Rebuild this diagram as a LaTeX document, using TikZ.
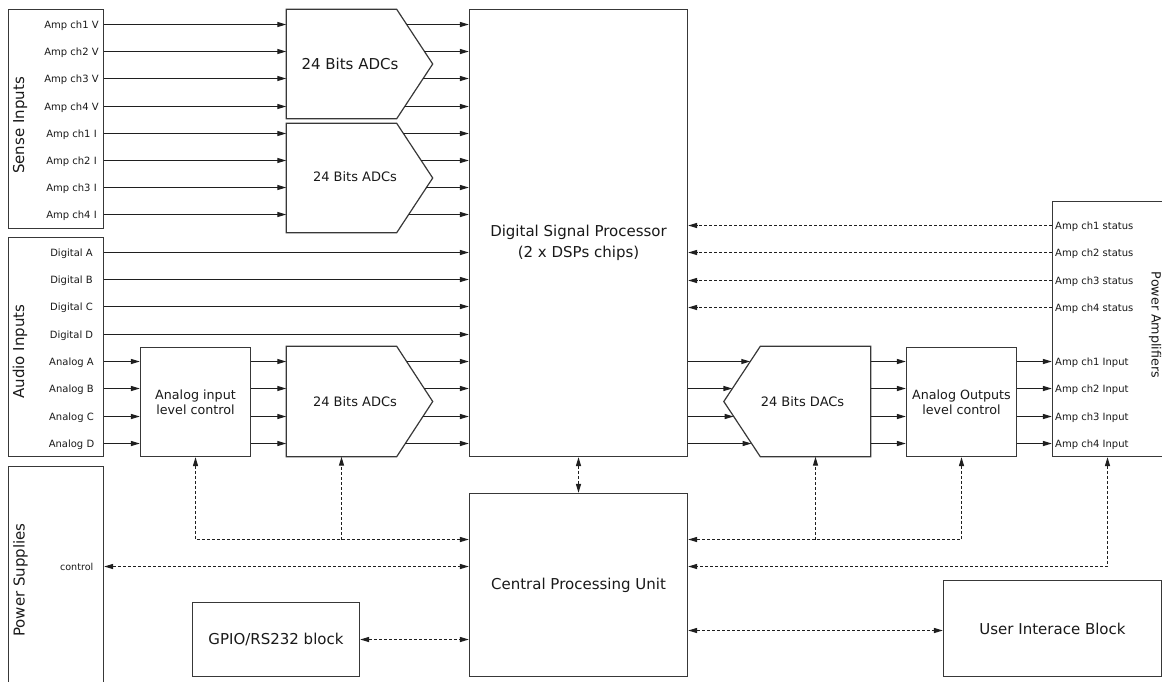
\documentclass[tikz,border=0pt]{standalone}
\usepackage{fontspec}
\setmainfont{DejaVu Sans}
\usetikzlibrary{arrows.meta,calc,intersections}
\begin{document}
\begin{tikzpicture}[x=1pt,y=-1pt,
  >={Triangle[length=9pt,width=5pt]},
  blk/.style={draw=black!78,line width=1.2pt,inner sep=0pt,align=center,text=black!90},
  ghost/.style={inner sep=0pt},
  outl/.style={draw=black!78,line width=1.2pt},
  lbl/.style={inner sep=0pt,text=black!90,font=\fontsize{10}{12}\selectfont,text height=7.3pt,text depth=0pt},
  ln/.style={draw=black!88,line width=1.2pt},
  dsh/.style={ln,dash pattern=on 3pt off 2pt},
  ttl/.style={inner sep=0pt,text=black!90,font=\fontsize{15}{18}\selectfont},
  mid/.style={inner sep=0pt,text=black!90,font=\fontsize{13}{15}\selectfont},
  big/.style={font=\fontsize{15}{18}\selectfont},
  two/.style={font=\fontsize{12.7}{15}\selectfont},
]
\useasboundingbox (0,0) rectangle (1162,681);
\clip (0,0) rectangle (1162,681);

% ---- blocks
\node[blk,minimum width=95pt,minimum height=219pt] (sense) at (56,119) {};
\node[blk,minimum width=95pt,minimum height=219pt] (audio) at (56,347) {};
\node[blk,minimum width=95pt,minimum height=260pt] (psu) at (56,596.5) {};
\node[blk,minimum width=218pt,minimum height=447pt] (dsp) at (578.5,233) {};
\node[blk,big,minimum width=218pt,minimum height=183pt] (cpu) at (578.5,585) {Central Processing Unit};
\node[blk,big,minimum width=167pt,minimum height=74pt] (gpio) at (276,639.5) {GPIO/RS232 block};
\node[blk,big,minimum width=218pt,minimum height=96pt] (ui) at (1052.5,628.5) {User Interace Block};
\node[blk,two,minimum width=110pt,minimum height=109pt] (ctlin) at (195.5,402) {Analog input\\level control};
\node[blk,two,minimum width=110pt,minimum height=109pt] (ctlout) at (961.5,402) {Analog Outputs\\level control};
\node[blk,minimum width=110pt,minimum height=255pt] (pa) at (1107.5,329) {};

% ---- converter shapes
\node[ghost,minimum width=110pt,minimum height=109pt] (adc1) at (341.5,64) {};
\node[ghost,minimum width=110pt,minimum height=109pt] (adc2) at (341.5,178) {};
\node[ghost,minimum width=110pt,minimum height=110pt] (adc3) at (341.5,401.5) {};
\node[ghost,minimum width=110pt,minimum height=110pt] (dac) at (815.5,401.5) {};
\draw[outl,name path=adc1p] (adc1.north west) -- (adc1.north east) -- ($(adc1.east)+(36,0)$) -- (adc1.south east) -- (adc1.south west) -- cycle;
\draw[outl,name path=adc2p] (adc2.north west) -- (adc2.north east) -- ($(adc2.east)+(36,0)$) -- (adc2.south east) -- (adc2.south west) -- cycle;
\draw[outl,name path=adc3p] (adc3.north west) -- (adc3.north east) -- ($(adc3.east)+(36,0)$) -- (adc3.south east) -- (adc3.south west) -- cycle;
\draw[outl,name path=dacp] (dac.north east) -- (dac.north west) -- ($(dac.west)+(-36.5,0)$) -- (dac.south west) -- (dac.south east) -- cycle;
\node[ttl] (adc1t) at (350,63.5) {24 Bits ADCs};
\node[mid] (adc2t) at (355,177) {24 Bits ADCs};
\node[mid] (adc3t) at (355,401.7) {24 Bits ADCs};
\node[mid] (dact) at (802.5,401.7) {24 Bits DACs};
\node[ttl,align=center,font=\fontsize{15}{20.3}\selectfont] (dspt) at (578.5,243) {Digital Signal Processor\\(2 x DSPs chips)};

% ---- titles
\node[ttl,rotate=90] (senset) at (20,125.5) {Sense Inputs};
\node[ttl,rotate=90] (audiot) at (20,351.7) {Audio Inputs};
\node[ttl,rotate=90] (psut) at (20.5,580) {Power Supplies};
\node[ttl,font=\fontsize{12.7}{15}\selectfont,rotate=-90] (pat) at (1155,325) {Power Amplifiers};

% ---- sense inputs
\foreach \t/\y [count=\i] in {Amp ch1 V/24.5,Amp ch2 V/51.5,Amp ch3 V/78.5,Amp ch4 V/106.5,Amp ch1 I/133.5,Amp ch2 I/160.5,Amp ch3 I/187.5,Amp ch4 I/214.5}
  \node[lbl] (s\i) at (71.5,\y) {\t};
\foreach \i in {1,...,4} {
  \draw[ln,->] (sense.east |- s\i) -- (adc1.west |- s\i);
  \path[name path=row] (adc1.center |- s\i) -- (dsp.west |- s\i);
  \draw[ln,->,name intersections={of=row and adc1p}] (intersection-1) -- (dsp.west |- s\i);
}
\foreach \i in {5,...,8} {
  \draw[ln,->] (sense.east |- s\i) -- (adc2.west |- s\i);
  \path[name path=row] (adc2.center |- s\i) -- (dsp.west |- s\i);
  \draw[ln,->,name intersections={of=row and adc2p}] (intersection-1) -- (dsp.west |- s\i);
}

% ---- audio inputs
\foreach \t/\y [count=\i] in {Digital A/252.5,Digital B/279.5,Digital C/306.5,Digital D/334.5,Analog A/361.5,Analog B/388.5,Analog C/416.5,Analog D/443.5}
  \node[lbl] (a\i) at (71.5,\y) {\t};
\foreach \i in {1,...,4}
  \draw[ln,->] (audio.east |- a\i) -- (dsp.west |- a\i);
\foreach \i in {5,...,8} {
  \draw[ln,->] (audio.east |- a\i) -- (ctlin.west |- a\i);
  \draw[ln,->] (ctlin.east |- a\i) -- (adc3.west |- a\i);
  \path[name path=row] (adc3.center |- a\i) -- (dsp.west |- a\i);
  \draw[ln,->,name intersections={of=row and adc3p}] (intersection-1) -- (dsp.west |- a\i);
}

% ---- outputs
\foreach \t/\y [count=\i] in {Amp ch1 Input/361.5,Amp ch2 Input/388.5,Amp ch3 Input/416.5,Amp ch4 Input/443.5}
  \node[lbl,anchor=west] (p\i) at (1055,\y) {\t};
\foreach \i in {1,...,4} {
  \path[name path=row] (dsp.east |- p\i) -- (dac.center |- p\i);
  \draw[ln,->,name intersections={of=row and dacp}] (dsp.east |- p\i) -- (intersection-1);
  \draw[ln,->] (dac.east |- p\i) -- (ctlout.west |- p\i);
  \draw[ln,->] (ctlout.east |- p\i) -- (pa.west |- p\i);
}
\foreach \t/\y [count=\i] in {Amp ch1 status/225.5,Amp ch2 status/252.5,Amp ch3 status/280.5,Amp ch4 status/307.5}
  \node[lbl,anchor=west] (st\i) at (1055,\y) {\t};
\foreach \i in {1,...,4}
  \draw[dsh,->] (pa.west |- st\i) -- (dsp.east |- st\i);

% ---- control buses
\coordinate (bus1) at (0,539.5);
\coordinate (bus2) at (0,566.5);
\coordinate (bui) at (0,630.5);
\node[lbl,font=\fontsize{9.6}{11}\selectfont,anchor=east] (ctl) at (93.5,566.5) {control};
\draw[dsh,<->] (dsp.south) -- (cpu.north);
\draw[dsh,<->] (ctlin.south) |- (cpu.west |- bus1);
\draw[dsh,->] (adc3.south |- bus1) -- (adc3.south);
\draw[dsh,<->] (ctlout.south) |- (cpu.east |- bus1);
\draw[dsh,->] (dac.south |- bus1) -- (dac.south);
\draw[dsh,<->] (pa.south) |- (cpu.east |- bus2);
\draw[dsh,<->] (psu.east |- ctl) -- (cpu.west |- ctl);
\draw[dsh,<->] (gpio.east) -- (cpu.west |- gpio.east);
\draw[dsh,<->] (cpu.east |- bui) -- (ui.west |- bui);
\end{tikzpicture}
\end{document}
